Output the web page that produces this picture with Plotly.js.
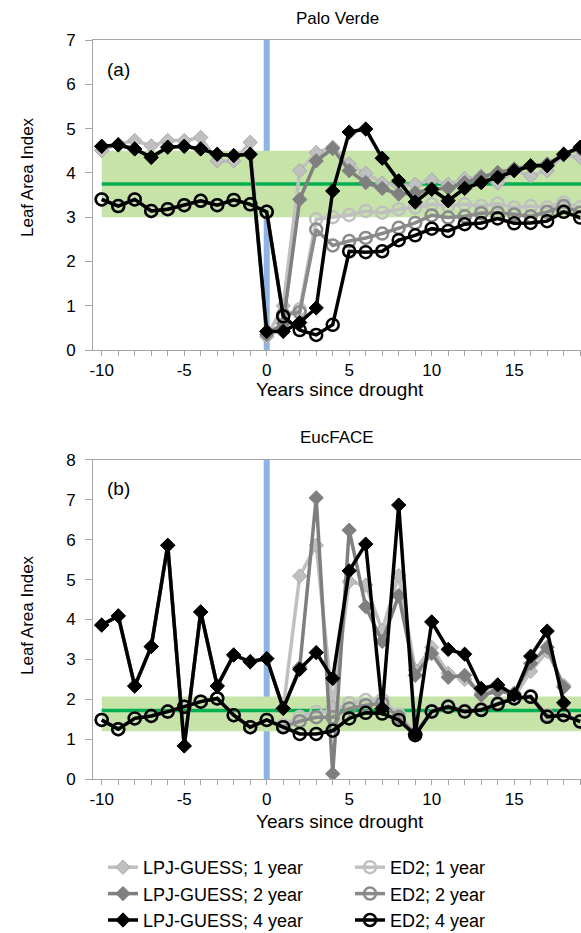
<!DOCTYPE html>
<html><head><meta charset="utf-8">
<script src="https://cdn.plot.ly/plotly-3.0.1.min.js"></script>
<style>html,body{margin:0;padding:0;background:#fff}#chart{width:581px;height:933px}</style>
</head><body><div id="chart"></div>
<script>
// ---- data ----
const years = [-10,-9,-8,-7,-6,-5,-4,-3,-2,-1,0,1,2,3,4,5,6,7,8,9,10,11,12,13,14,15,16,17,18,19];
const yearsLpjB = [-10,-9,-8,-7,-6,-5,-4,-3,-2,-1,0,1,2,3,4,5,6,7,8,9,10,11,12,13,14,15,16,17,18];
const xTickVals = [-10,-5,0,5,10,15];
const xTickText = ['-10','-5','0','5','10','15'];

// Panel (a) Palo Verde
const lpjA1 = [4.50,4.65,4.73,4.61,4.73,4.73,4.80,4.27,4.27,4.69,0.30,1.00,4.05,4.46,4.58,4.20,3.99,3.77,3.71,3.74,3.84,3.74,3.87,3.93,3.77,4.05,3.93,4.05,4.40,4.35];
const lpjA2 = [4.60,4.63,4.54,4.35,4.58,4.60,4.54,4.42,4.39,4.42,0.35,0.60,3.40,4.27,4.55,4.05,3.78,3.65,3.52,3.55,3.63,3.65,3.78,3.90,4.01,4.09,4.16,4.20,4.42,4.55];
const lpjA4 = [4.60,4.63,4.54,4.35,4.58,4.60,4.54,4.42,4.39,4.42,0.42,0.42,0.62,0.95,3.59,4.92,4.99,4.33,3.82,3.34,3.63,3.37,3.65,3.78,3.90,4.05,4.16,4.16,4.42,4.58];
const edA1 = [3.40,3.25,3.40,3.14,3.18,3.27,3.37,3.27,3.39,3.29,3.12,0.78,0.92,2.95,3.00,3.05,3.14,3.10,3.18,3.22,3.29,3.25,3.29,3.25,3.31,3.22,3.25,3.22,3.33,3.22];
const edA2 = [3.40,3.25,3.40,3.14,3.18,3.27,3.37,3.27,3.39,3.29,3.12,0.80,0.85,2.72,2.36,2.46,2.53,2.63,2.76,2.87,3.04,2.99,3.02,3.09,3.10,3.06,3.02,3.12,3.25,3.10];
const edA4 = [3.40,3.25,3.40,3.14,3.18,3.27,3.37,3.27,3.39,3.29,3.12,0.76,0.45,0.34,0.57,2.23,2.21,2.23,2.48,2.59,2.74,2.69,2.84,2.87,2.97,2.86,2.87,2.91,3.12,2.99];
const obsMeanA = 3.75, obsLowA = 3.0, obsHighA = 4.5;

// Panel (b) EucFACE
const lpjB1 = [3.86,4.09,2.33,3.32,5.86,0.83,4.19,2.33,3.11,2.94,3.02,1.77,5.09,5.86,1.80,4.95,4.86,3.73,5.10,2.73,3.30,2.65,2.50,2.15,2.30,2.05,2.70,3.20,2.35];
const lpjB2 = [3.86,4.09,2.33,3.32,5.86,0.83,4.19,2.33,3.11,2.94,3.02,1.77,2.80,7.05,0.13,6.24,4.32,3.45,4.60,2.60,3.15,2.55,2.60,2.10,2.20,2.15,2.90,3.30,2.30];
const lpjB4 = [3.86,4.09,2.33,3.32,5.86,0.83,4.19,2.33,3.11,2.94,3.02,1.77,2.75,3.17,2.52,5.22,5.89,1.77,6.87,1.12,3.94,3.25,3.13,2.27,2.36,2.11,3.08,3.71,1.91];
const edB1 = [1.48,1.25,1.52,1.58,1.69,1.81,1.94,2.02,1.60,1.30,1.48,1.35,1.56,1.68,1.70,1.90,1.98,1.99,1.62,1.15,1.72,1.84,1.72,1.76,1.90,2.04,2.08,1.60,1.62,1.46];
const edB2 = [1.48,1.25,1.52,1.58,1.69,1.81,1.94,2.02,1.60,1.30,1.48,1.30,1.45,1.55,1.55,1.77,1.85,1.90,1.55,1.12,1.70,1.82,1.70,1.74,1.89,2.03,2.07,1.58,1.61,1.45];
const edB4 = [1.48,1.25,1.52,1.58,1.69,1.81,1.94,2.02,1.60,1.30,1.48,1.30,1.13,1.13,1.21,1.52,1.66,1.64,1.48,1.10,1.69,1.81,1.69,1.73,1.88,2.02,2.06,1.56,1.60,1.44];
const obsMeanB = 1.72, obsLowB = 1.2, obsHighB = 2.07;

const seriesNames = ['LPJ-GUESS; 1 year','LPJ-GUESS; 2 year','LPJ-GUESS; 4 year','ED2; 1 year','ED2; 2 year','ED2; 4 year'];

// ---- styles ----
const FONT = 'Liberation Sans, Arial, sans-serif';
const cLpj = ['#c0c0c0','#7f7f7f','#000000'];
const cEd = ['#c0c0c0','#8a8a8a','#000000'];
const axisGray = '#a6a6a6';

function lpjTrace(x, y, i, xa, ya, show) {
  return {x, y, type:'scatter', mode:'lines+markers', name:seriesNames[i], xaxis:xa, yaxis:ya,
    showlegend:show, legend:'legend',
    line:{color:cLpj[i], width:3.5},
    marker:{symbol:'diamond', size:11, color:cLpj[i], line:{color: i===0 ? '#a8a8a8' : cLpj[i], width:1}}};
}
function edTrace(x, y, i, xa, ya, show) {
  return {x, y, type:'scatter', mode:'lines+markers', name:seriesNames[3+i], xaxis:xa, yaxis:ya,
    showlegend:show, legend:'legend2',
    line:{color:cEd[i], width:3.5},
    marker:{symbol:'circle-open', size:12, color:cEd[i], line:{color:cEd[i], width:2.5}}};
}

const traces = [
  lpjTrace(years, lpjA1, 0, 'x', 'y', true),
  edTrace(years, edA1, 0, 'x', 'y', true),
  lpjTrace(years, lpjA2, 1, 'x', 'y', true),
  edTrace(years, edA2, 1, 'x', 'y', true),
  lpjTrace(years, lpjA4, 2, 'x', 'y', true),
  edTrace(years, edA4, 2, 'x', 'y', true),
  lpjTrace(yearsLpjB, lpjB1, 0, 'x2', 'y2', false),
  edTrace(years, edB1, 0, 'x2', 'y2', false),
  lpjTrace(yearsLpjB, lpjB2, 1, 'x2', 'y2', false),
  edTrace(years, edB2, 1, 'x2', 'y2', false),
  lpjTrace(yearsLpjB, lpjB4, 2, 'x2', 'y2', false),
  edTrace(years, edB4, 2, 'x2', 'y2', false)
];

const xRange = [-10.53, 19.05];
function xAxis(anchor) {
  return {domain:[0,1], anchor, range:xRange, tickmode:'array', tickvals:xTickVals, ticktext:xTickText,
    ticks:'outside', ticklen:5, tickcolor:axisGray, tickwidth:1,
    minor:{dtick:1, tick0:0, ticks:'outside', ticklen:5, tickcolor:axisGray, tickwidth:1},
    showline:true, linecolor:axisGray, linewidth:1, mirror:true,
    showgrid:false, zeroline:false, ticklabelstandoff:0, automargin:false,
    tickfont:{family:FONT, size:17, color:'#000'}};
}
function yAxis(anchor, domain, range) {
  return {domain, anchor, range, dtick:1, tick0:0,
    ticks:'outside', ticklen:7, tickcolor:axisGray, tickwidth:1,
    showline:true, linecolor:axisGray, linewidth:1,
    showgrid:false, zeroline:false, ticklabelstandoff:6, automargin:false,
    tickfont:{family:FONT, size:17, color:'#000'}};
}

function bandShapes(xa, ya, lo, hi, mean) {
  return [
    {type:'rect', xref:xa, yref:ya, x0:-10, x1:xRange[1], y0:lo, y1:hi, fillcolor:'#c6e4a8', line:{width:0}, layer:'below'},
    {type:'line', xref:xa, yref:ya+' domain', x0:0, x1:0, y0:0, y1:1, line:{color:'#8db4e2', width:6}, layer:'below'},
    {type:'line', xref:xa, yref:ya, x0:-10, x1:xRange[1], y0:mean, y1:mean, line:{color:'#00b050', width:3.5}, layer:'below'}
  ];
}

const ann = (text, x, y, xref, yref, size, extra) => Object.assign({text, x, y, xref, yref, showarrow:false,
  font:{family:FONT, size, color:'#000'}, xanchor:'center', yanchor:'middle'}, extra||{});

const py = p => (779 - p) / 739;   // pixel row -> paper y
const px = p => (p - 93) / 488;    // pixel column -> paper x
const cy = p => (933 - p) / 933;   // pixel row -> container y

const layout = {
  width:581, height:933,
  margin:{l:93, r:0, t:40, b:154},
  paper_bgcolor:'#fff', plot_bgcolor:'#fff',
  font:{family:FONT, size:17, color:'#000'},
  xaxis:xAxis('y'),
  yaxis:yAxis('x', [0.5805, 1], [0,7]),
  xaxis2:xAxis('y2'),
  yaxis2:yAxis('x2', [0, 0.4317], [0,8]),
  shapes:[...bandShapes('x','y',obsLowA,obsHighA,obsMeanA), ...bandShapes('x2','y2',obsLowB,obsHighB,obsMeanB)],
  annotations:[
    ann('Palo Verde', 0.5, py(18), 'paper', 'paper', 17),
    ann('EucFACE', 0.5, py(437), 'paper', 'paper', 17),
    ann('(a)', 0.052, 0.905, 'x domain', 'y domain', 19),
    ann('(b)', 0.052, 0.91, 'x2 domain', 'y2 domain', 19),
    ann('Leaf Area Index', px(27), py(177), 'paper', 'paper', 17, {textangle:-90}),
    ann('Leaf Area Index', px(27), py(615), 'paper', 'paper', 17, {textangle:-90}),
    ann('Years since drought', px(340), py(389), 'paper', 'paper', 19),
    ann('Years since drought', px(340), py(822), 'paper', 'paper', 19)
  ],
  showlegend:true,
  legend:{x:px(103), y:cy(849), xref:'paper', yref:'container', xanchor:'left', yanchor:'top', orientation:'v',
    bgcolor:'rgba(0,0,0,0)', itemwidth:30, tracegroupgap:0, font:{family:FONT, size:18, color:'#000'}},
  legend2:{x:px(350), y:cy(849), xref:'paper', yref:'container', xanchor:'left', yanchor:'top', orientation:'v',
    bgcolor:'rgba(0,0,0,0)', itemwidth:30, tracegroupgap:0, font:{family:FONT, size:18, color:'#000'}}
};

Plotly.newPlot('chart', traces, layout, {displayModeBar:false, staticPlot:true});
</script>
</body></html>
